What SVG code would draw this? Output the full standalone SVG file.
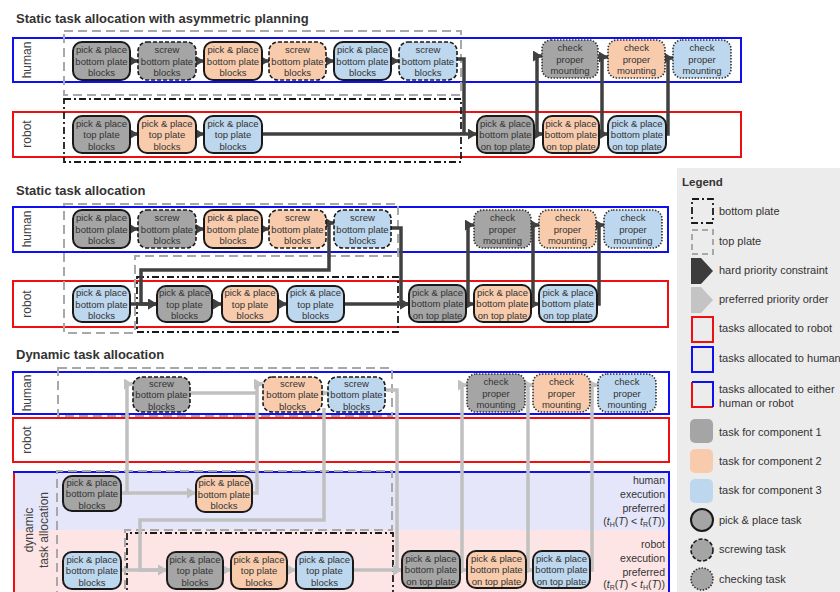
<svg xmlns="http://www.w3.org/2000/svg" width="840" height="592" viewBox="0 0 840 592">
<defs>
<marker id="mh" markerUnits="userSpaceOnUse" markerWidth="9" markerHeight="11" refX="9" refY="5.5" orient="auto"><path d="M0,0 L9,5.5 L0,11 z" fill="#404040"/></marker>
<marker id="mp" markerUnits="userSpaceOnUse" markerWidth="9" markerHeight="11" refX="9" refY="5.5" orient="auto"><path d="M0,0 L9,5.5 L0,11 z" fill="#c0c0c0"/></marker>
</defs>
<style>
text{font-family:"Liberation Sans",Arial,sans-serif}
.title{font-size:13px;font-weight:bold;fill:#333}
.lane{font-size:12px;fill:#404040;text-anchor:middle}
.n{font-size:9.5px;fill:#333;text-anchor:middle}
.g{fill:#a5a5a5}.o{fill:#f8cbad}.b{fill:#bdd7ee}
.pp{stroke:#1a1a1a;stroke-width:2}
.sc{stroke:#1a1a1a;stroke-width:1.6;stroke-dasharray:4 2}
.ck{stroke:#333;stroke-width:1.6;stroke-dasharray:1.5 1.5}
.hl{fill:none;stroke:#1010ee;stroke-width:2}
.rl{fill:none;stroke:#ee1010;stroke-width:2}
.tp{fill:none;stroke:#a8a8a8;stroke-width:2;stroke-dasharray:9 5}
.bp{fill:none;stroke:#1a1a1a;stroke-width:1.8;stroke-dasharray:7 3 2 3}
.hc{fill:none;stroke:#404040;stroke-width:3.5;marker-end:url(#mh)}
.hn{fill:none;stroke:#404040;stroke-width:3.5}
.pc{fill:none;stroke:#c0c0c0;stroke-width:3.5;marker-end:url(#mp)}
.pn{fill:none;stroke:#c0c0c0;stroke-width:3.5}
.lg{font-size:11px;fill:#333}
.rt{font-size:10.5px;fill:#333;text-anchor:end}
.sb{font-size:7px}
</style>
<rect width="840" height="592" fill="#fff"/>

<!-- legend background -->
<rect x="677" y="168" width="163" height="424" fill="#ececec"/>

<!-- titles -->
<text class="title" x="16" y="23">Static task allocation with asymmetric planning</text>
<text class="title" x="16" y="195">Static task allocation</text>
<text class="title" x="16" y="359">Dynamic task allocation</text>

<!-- dynamic area fills -->
<rect x="14" y="472" width="655" height="58" fill="#e6e6fa"/>
<rect x="14" y="530" width="655" height="62" fill="#fde5e5"/>

<!-- lanes -->
<g id="lanes">
<rect class="hl" x="13" y="38" width="728" height="44"/>
<rect class="rl" x="13" y="112" width="728" height="45"/>
<rect class="hl" x="13" y="207" width="655" height="45"/>
<rect class="rl" x="13" y="281" width="655" height="46"/>
<rect class="hl" x="13" y="372" width="656" height="42"/>
<rect class="rl" x="13" y="418" width="656" height="44"/>
<path class="rl" d="M14,472 V600"/>
<path class="hl" d="M13,472 H669 V600"/>
</g>

<!-- lane labels -->
<text class="lane" transform="translate(31,60) rotate(-90)">human</text>
<text class="lane" transform="translate(31,134) rotate(-90)">robot</text>
<text class="lane" transform="translate(31,229) rotate(-90)">human</text>
<text class="lane" transform="translate(31,304) rotate(-90)">robot</text>
<text class="lane" transform="translate(31,393) rotate(-90)">human</text>
<text class="lane" transform="translate(31,440) rotate(-90)">robot</text>
<text class="lane" transform="translate(33,530) rotate(-90)">dynamic</text>
<text class="lane" transform="translate(48,530) rotate(-90)">task allocation</text>

<!-- right labels dynamic -->
<text class="rt"><tspan x="665" y="484">human</tspan><tspan x="665" y="498">execution</tspan><tspan x="665" y="512">preferred</tspan><tspan x="665" y="525">(<tspan font-style="italic">t</tspan><tspan class="sb" dy="1.5">H</tspan><tspan dy="-1.5">(</tspan><tspan font-style="italic">T</tspan>) &lt; <tspan font-style="italic">t</tspan><tspan class="sb" dy="1.5">R</tspan><tspan dy="-1.5">(</tspan><tspan font-style="italic">T</tspan>))</tspan></text>
<text class="rt"><tspan x="665" y="548">robot</tspan><tspan x="665" y="562">execution</tspan><tspan x="665" y="576">preferred</tspan><tspan x="665" y="588">(<tspan font-style="italic">t</tspan><tspan class="sb" dy="1.5">R</tspan><tspan dy="-1.5">(</tspan><tspan font-style="italic">T</tspan>) &lt; <tspan font-style="italic">t</tspan><tspan class="sb" dy="1.5">H</tspan><tspan dy="-1.5">(</tspan><tspan font-style="italic">T</tspan>))</tspan></text>

<!-- plate boxes -->
<g id="plates">
<rect class="tp" x="64" y="31" width="397" height="64"/>
<rect class="bp" x="64" y="99" width="397" height="63"/>
<path class="tp" d="M64,204 H398 V256 H135 V333 H64 Z"/>
<rect class="bp" x="137" y="277" width="261" height="55"/>
<rect class="tp" x="58" y="368" width="334" height="48"/>
<path class="tp" d="M57,600 V471 H392 V530 H125 V600"/>
<path class="bp" d="M127,600 V533 H393 V600"/>
</g>

<!-- connectors -->
<g id="connectors">
<!-- section 1 -->
<path class="hc" d="M130,61 H138"/>
<path class="hc" d="M196,61 H204"/>
<path class="hc" d="M262,61 H269"/>
<path class="hc" d="M326,61 H334"/>
<path class="hc" d="M391,61 H399"/>
<path class="hc" d="M130,134 H138"/>
<path class="hc" d="M196,134 H204"/>
<path class="hn" d="M457,59 H464 V134"/>
<path class="hc" d="M262,134 H477"/>
<path class="hc" d="M534,134 H543"/>
<path class="hc" d="M599,134 H608"/>
<path class="hc" d="M534,134 H537 V56 H542"/>
<path class="hc" d="M599,134 H602 V57 H608"/>
<path class="hc" d="M666,134 H668 V58 H673"/>
<path class="hn" d="M598,57 H602"/>
<path class="hn" d="M665,58 H668"/>
<!-- section 2 -->
<path class="hc" d="M130,229 H138"/>
<path class="hc" d="M196,229 H204"/>
<path class="hc" d="M262,229 H269"/>
<path class="hc" d="M326,223 H334"/>
<path class="hc" d="M326,223 H329 V270 H141 V304 H157"/>
<path class="hc" d="M130,304 H157"/>
<path class="hc" d="M212,304 H222"/>
<path class="hc" d="M278,304 H287"/>
<path class="hc" d="M391,228 H401 V304 H409"/>
<path class="hc" d="M343,304 H409"/>
<path class="hc" d="M466,304 H474"/>
<path class="hc" d="M531,304 H539"/>
<path class="hc" d="M466,304 H468 V225 H474"/>
<path class="hc" d="M531,304 H533 V225 H539"/>
<path class="hc" d="M597,304 H599 V225 H604"/>
<!-- section 3 -->
<path class="pc" d="M121,493 H127 V384 H133"/>
<path class="pc" d="M127,493 H196"/>
<path class="pn" d="M190,393 H257"/>
<path class="pc" d="M252,493 H257 V384 H263"/>
<path class="pc" d="M322,393 H328"/>
<path class="pc" d="M324,408 V520 H140 V570 H167"/>
<path class="pc" d="M121,570 H167"/>
<path class="pc" d="M223,570 H231"/>
<path class="pc" d="M287,570 H296"/>
<path class="pc" d="M385,390 H397 V570 H402"/>
<path class="pc" d="M353,570 H402"/>
<path class="pc" d="M460,570 H467"/>
<path class="pc" d="M526,570 H533"/>
<path class="pc" d="M460,570 H462 V385 H467"/>
<path class="pc" d="M526,570 H528 V385 H533"/>
<path class="pc" d="M590,570 H592 V385 H598"/>
</g>

<!-- section 1 nodes -->
<g id="s1h1"><rect class="g pp" x="73" y="42" width="57" height="38" rx="9"/><text class="n"><tspan x="101.5" y="53">pick &amp; place</tspan><tspan x="101.5" y="64.5">bottom plate</tspan><tspan x="101.5" y="76">blocks</tspan></text></g>
<g id="s1h2"><rect class="g sc" x="138" y="42" width="58" height="38" rx="9"/><text class="n"><tspan x="167" y="53">screw</tspan><tspan x="167" y="64.5">bottom plate</tspan><tspan x="167" y="76">blocks</tspan></text></g>
<g id="s1h3"><rect class="o pp" x="204" y="42" width="58" height="38" rx="9"/><text class="n"><tspan x="233" y="53">pick &amp; place</tspan><tspan x="233" y="64.5">bottom plate</tspan><tspan x="233" y="76">blocks</tspan></text></g>
<g id="s1h4"><rect class="o sc" x="269" y="42" width="57" height="38" rx="9"/><text class="n"><tspan x="297.5" y="53">screw</tspan><tspan x="297.5" y="64.5">bottom plate</tspan><tspan x="297.5" y="76">blocks</tspan></text></g>
<g id="s1h5"><rect class="b pp" x="334" y="42" width="57" height="38" rx="9"/><text class="n"><tspan x="362.5" y="53">pick &amp; place</tspan><tspan x="362.5" y="64.5">bottom plate</tspan><tspan x="362.5" y="76">blocks</tspan></text></g>
<g id="s1h6"><rect class="b sc" x="399" y="42" width="58" height="38" rx="9"/><text class="n"><tspan x="428" y="53">screw</tspan><tspan x="428" y="64.5">bottom plate</tspan><tspan x="428" y="76">blocks</tspan></text></g>
<g id="s1r1"><rect class="g pp" x="73" y="116" width="57" height="37" rx="9"/><text class="n"><tspan x="101.5" y="126.5">pick &amp; place</tspan><tspan x="101.5" y="138">top plate</tspan><tspan x="101.5" y="149.5">blocks</tspan></text></g>
<g id="s1r2"><rect class="o pp" x="138" y="116" width="58" height="37" rx="9"/><text class="n"><tspan x="167" y="126.5">pick &amp; place</tspan><tspan x="167" y="138">top plate</tspan><tspan x="167" y="149.5">blocks</tspan></text></g>
<g id="s1r3"><rect class="b pp" x="204" y="116" width="58" height="37" rx="9"/><text class="n"><tspan x="233" y="126.5">pick &amp; place</tspan><tspan x="233" y="138">top plate</tspan><tspan x="233" y="149.5">blocks</tspan></text></g>
<g id="s1p1"><rect class="g pp" x="477" y="116" width="57" height="37" rx="9"/><text class="n"><tspan x="505.5" y="126.5">pick &amp; place</tspan><tspan x="505.5" y="138">bottom plate</tspan><tspan x="505.5" y="149.5">on top plate</tspan></text></g>
<g id="s1p2"><rect class="o pp" x="543" y="116" width="56" height="37" rx="9"/><text class="n"><tspan x="571" y="126.5">pick &amp; place</tspan><tspan x="571" y="138">bottom plate</tspan><tspan x="571" y="149.5">on top plate</tspan></text></g>
<g id="s1p3"><rect class="b pp" x="608" y="116" width="58" height="37" rx="9"/><text class="n"><tspan x="637" y="126.5">pick &amp; place</tspan><tspan x="637" y="138">bottom plate</tspan><tspan x="637" y="149.5">on top plate</tspan></text></g>
<g id="s1c1"><rect class="g ck" x="542" y="40" width="56" height="38" rx="9"/><text class="n"><tspan x="570" y="51">check</tspan><tspan x="570" y="62.5">proper</tspan><tspan x="570" y="74">mounting</tspan></text></g>
<g id="s1c2"><rect class="o ck" x="608" y="40" width="57" height="38" rx="9"/><text class="n"><tspan x="636.5" y="51">check</tspan><tspan x="636.5" y="62.5">proper</tspan><tspan x="636.5" y="74">mounting</tspan></text></g>
<g id="s1c3"><rect class="b ck" x="673" y="40" width="58" height="38" rx="9"/><text class="n"><tspan x="702" y="51">check</tspan><tspan x="702" y="62.5">proper</tspan><tspan x="702" y="74">mounting</tspan></text></g>

<!-- section 2 nodes -->
<g id="s2h1"><rect class="g pp" x="73" y="210" width="57" height="38" rx="9"/><text class="n"><tspan x="101.5" y="221">pick &amp; place</tspan><tspan x="101.5" y="232.5">bottom plate</tspan><tspan x="101.5" y="244">blocks</tspan></text></g>
<g id="s2h2"><rect class="g sc" x="138" y="210" width="58" height="38" rx="9"/><text class="n"><tspan x="167" y="221">screw</tspan><tspan x="167" y="232.5">bottom plate</tspan><tspan x="167" y="244">blocks</tspan></text></g>
<g id="s2h3"><rect class="o pp" x="204" y="210" width="58" height="38" rx="9"/><text class="n"><tspan x="233" y="221">pick &amp; place</tspan><tspan x="233" y="232.5">bottom plate</tspan><tspan x="233" y="244">blocks</tspan></text></g>
<g id="s2h4"><rect class="o sc" x="269" y="210" width="57" height="38" rx="9"/><text class="n"><tspan x="297.5" y="221">screw</tspan><tspan x="297.5" y="232.5">bottom plate</tspan><tspan x="297.5" y="244">blocks</tspan></text></g>
<g id="s2h5"><rect class="b sc" x="334" y="210" width="57" height="38" rx="9"/><text class="n"><tspan x="362.5" y="221">screw</tspan><tspan x="362.5" y="232.5">bottom plate</tspan><tspan x="362.5" y="244">blocks</tspan></text></g>
<g id="s2r1"><rect class="b pp" x="73" y="286" width="57" height="36" rx="9"/><text class="n"><tspan x="101.5" y="296">pick &amp; place</tspan><tspan x="101.5" y="307.5">bottom plate</tspan><tspan x="101.5" y="319">blocks</tspan></text></g>
<g id="s2r2"><rect class="g pp" x="157" y="286" width="55" height="36" rx="9"/><text class="n"><tspan x="184.5" y="296">pick &amp; place</tspan><tspan x="184.5" y="307.5">top plate</tspan><tspan x="184.5" y="319">blocks</tspan></text></g>
<g id="s2r3"><rect class="o pp" x="222" y="286" width="56" height="36" rx="9"/><text class="n"><tspan x="250" y="296">pick &amp; place</tspan><tspan x="250" y="307.5">top plate</tspan><tspan x="250" y="319">blocks</tspan></text></g>
<g id="s2r4"><rect class="b pp" x="287" y="286" width="57" height="36" rx="9"/><text class="n"><tspan x="315.5" y="296">pick &amp; place</tspan><tspan x="315.5" y="307.5">top plate</tspan><tspan x="315.5" y="319">blocks</tspan></text></g>
<g id="s2p1"><rect class="g pp" x="409" y="285" width="57" height="37" rx="9"/><text class="n"><tspan x="437.5" y="295.5">pick &amp; place</tspan><tspan x="437.5" y="307">bottom plate</tspan><tspan x="437.5" y="318.5">on top plate</tspan></text></g>
<g id="s2p2"><rect class="o pp" x="474" y="285" width="57" height="37" rx="9"/><text class="n"><tspan x="502.5" y="295.5">pick &amp; place</tspan><tspan x="502.5" y="307">bottom plate</tspan><tspan x="502.5" y="318.5">on top plate</tspan></text></g>
<g id="s2p3"><rect class="b pp" x="539" y="285" width="58" height="37" rx="9"/><text class="n"><tspan x="568" y="295.5">pick &amp; place</tspan><tspan x="568" y="307">bottom plate</tspan><tspan x="568" y="318.5">on top plate</tspan></text></g>
<g id="s2c1"><rect class="g ck" x="474" y="210" width="57" height="38" rx="9"/><text class="n"><tspan x="502.5" y="221">check</tspan><tspan x="502.5" y="232.5">proper</tspan><tspan x="502.5" y="244">mounting</tspan></text></g>
<g id="s2c2"><rect class="o ck" x="539" y="210" width="57" height="38" rx="9"/><text class="n"><tspan x="567.5" y="221">check</tspan><tspan x="567.5" y="232.5">proper</tspan><tspan x="567.5" y="244">mounting</tspan></text></g>
<g id="s2c3"><rect class="b ck" x="604" y="210" width="58" height="38" rx="9"/><text class="n"><tspan x="633" y="221">check</tspan><tspan x="633" y="232.5">proper</tspan><tspan x="633" y="244">mounting</tspan></text></g>

<!-- section 3 nodes -->
<g id="s3h1"><rect class="g sc" x="133" y="377" width="57" height="35" rx="9"/><text class="n"><tspan x="161.5" y="386.5">screw</tspan><tspan x="161.5" y="398">bottom plate</tspan><tspan x="161.5" y="409.5">blocks</tspan></text></g>
<g id="s3h2"><rect class="o sc" x="263" y="377" width="59" height="35" rx="9"/><text class="n"><tspan x="292.5" y="386.5">screw</tspan><tspan x="292.5" y="398">bottom plate</tspan><tspan x="292.5" y="409.5">blocks</tspan></text></g>
<g id="s3h3"><rect class="b sc" x="328" y="377" width="57" height="35" rx="9"/><text class="n"><tspan x="356.5" y="386.5">screw</tspan><tspan x="356.5" y="398">bottom plate</tspan><tspan x="356.5" y="409.5">blocks</tspan></text></g>
<g id="s3c1"><rect class="g ck" x="467" y="374" width="58" height="38" rx="9"/><text class="n"><tspan x="496" y="385">check</tspan><tspan x="496" y="396.5">proper</tspan><tspan x="496" y="408">mounting</tspan></text></g>
<g id="s3c2"><rect class="o ck" x="533" y="374" width="57" height="38" rx="9"/><text class="n"><tspan x="561.5" y="385">check</tspan><tspan x="561.5" y="396.5">proper</tspan><tspan x="561.5" y="408">mounting</tspan></text></g>
<g id="s3c3"><rect class="b ck" x="598" y="374" width="58" height="38" rx="9"/><text class="n"><tspan x="627" y="385">check</tspan><tspan x="627" y="396.5">proper</tspan><tspan x="627" y="408">mounting</tspan></text></g>
<g id="s3d1"><rect class="g pp" x="63" y="476" width="58" height="35" rx="9"/><text class="n"><tspan x="92" y="485.5">pick &amp; place</tspan><tspan x="92" y="497">bottom plate</tspan><tspan x="92" y="508.5">blocks</tspan></text></g>
<g id="s3d2"><rect class="o pp" x="196" y="476" width="56" height="36" rx="9"/><text class="n"><tspan x="224" y="486">pick &amp; place</tspan><tspan x="224" y="497.5">bottom plate</tspan><tspan x="224" y="509">blocks</tspan></text></g>
<g id="s3d3"><rect class="b pp" x="63" y="552" width="58" height="37" rx="9"/><text class="n"><tspan x="92" y="562.5">pick &amp; place</tspan><tspan x="92" y="574">bottom plate</tspan><tspan x="92" y="585.5">blocks</tspan></text></g>
<g id="s3d4"><rect class="g pp" x="167" y="552" width="56" height="37" rx="9"/><text class="n"><tspan x="195" y="562.5">pick &amp; place</tspan><tspan x="195" y="574">top plate</tspan><tspan x="195" y="585.5">blocks</tspan></text></g>
<g id="s3d5"><rect class="o pp" x="231" y="552" width="56" height="37" rx="9"/><text class="n"><tspan x="259" y="562.5">pick &amp; place</tspan><tspan x="259" y="574">top plate</tspan><tspan x="259" y="585.5">blocks</tspan></text></g>
<g id="s3d6"><rect class="b pp" x="296" y="552" width="57" height="37" rx="9"/><text class="n"><tspan x="324.5" y="562.5">pick &amp; place</tspan><tspan x="324.5" y="574">top plate</tspan><tspan x="324.5" y="585.5">blocks</tspan></text></g>
<g id="s3d7"><rect class="g pp" x="402" y="551" width="58" height="37" rx="9"/><text class="n"><tspan x="431" y="561.5">pick &amp; place</tspan><tspan x="431" y="573">bottom plate</tspan><tspan x="431" y="584.5">on top plate</tspan></text></g>
<g id="s3d8"><rect class="o pp" x="467" y="551" width="59" height="37" rx="9"/><text class="n"><tspan x="496.5" y="561.5">pick &amp; place</tspan><tspan x="496.5" y="573">bottom plate</tspan><tspan x="496.5" y="584.5">on top plate</tspan></text></g>
<g id="s3d9"><rect class="b pp" x="533" y="551" width="57" height="37" rx="9"/><text class="n"><tspan x="561.5" y="561.5">pick &amp; place</tspan><tspan x="561.5" y="573">bottom plate</tspan><tspan x="561.5" y="584.5">on top plate</tspan></text></g>

<!-- legend -->
<g id="legend">
<text x="682" y="186" font-size="11.5" font-weight="bold" fill="#333">Legend</text>
<rect class="bp" x="692" y="199" width="21" height="24"/>
<text class="lg" x="719" y="215">bottom plate</text>
<rect class="tp" x="692" y="230" width="21" height="24" style="stroke-dasharray:6 4"/>
<text class="lg" x="719" y="245">top plate</text>
<polygon points="691,258 701,258 713,271 701,284 691,284" fill="#3c3c3c"/>
<text class="lg" x="719" y="274">hard priority constraint</text>
<polygon points="691,287 701,287 713,300 701,313 691,313" fill="#c4c4c4"/>
<text class="lg" x="719" y="303">preferred priority order</text>
<rect class="rl" x="692" y="317" width="21" height="25"/>
<text class="lg" x="719" y="332">tasks allocated to robot</text>
<rect class="hl" x="692" y="347" width="21" height="25"/>
<text class="lg" x="719" y="362">tasks allocated to human</text>
<path class="rl" d="M692,382 V407 H713"/>
<path class="hl" d="M692,382 H713 V407"/>
<text class="lg"><tspan x="719" y="393">tasks allocated to either</tspan><tspan x="719" y="407">human or robot</tspan></text>
<rect x="690" y="419" width="23" height="24" rx="5" fill="#a5a5a5"/>
<text class="lg" x="719" y="436">task for component 1</text>
<rect x="690" y="449" width="23" height="24" rx="5" fill="#f8cbad"/>
<text class="lg" x="719" y="465">task for component 2</text>
<rect x="690" y="479" width="23" height="24" rx="5" fill="#bdd7ee"/>
<text class="lg" x="719" y="494">task for component 3</text>
<circle class="g pp" cx="702" cy="520" r="11"/>
<text class="lg" x="719" y="524">pick &amp; place task</text>
<circle class="g sc" cx="702" cy="550" r="11"/>
<text class="lg" x="719" y="553">screwing task</text>
<circle class="g ck" cx="702" cy="579" r="11"/>
<text class="lg" x="719" y="583">checking task</text>
</g>
</svg>
